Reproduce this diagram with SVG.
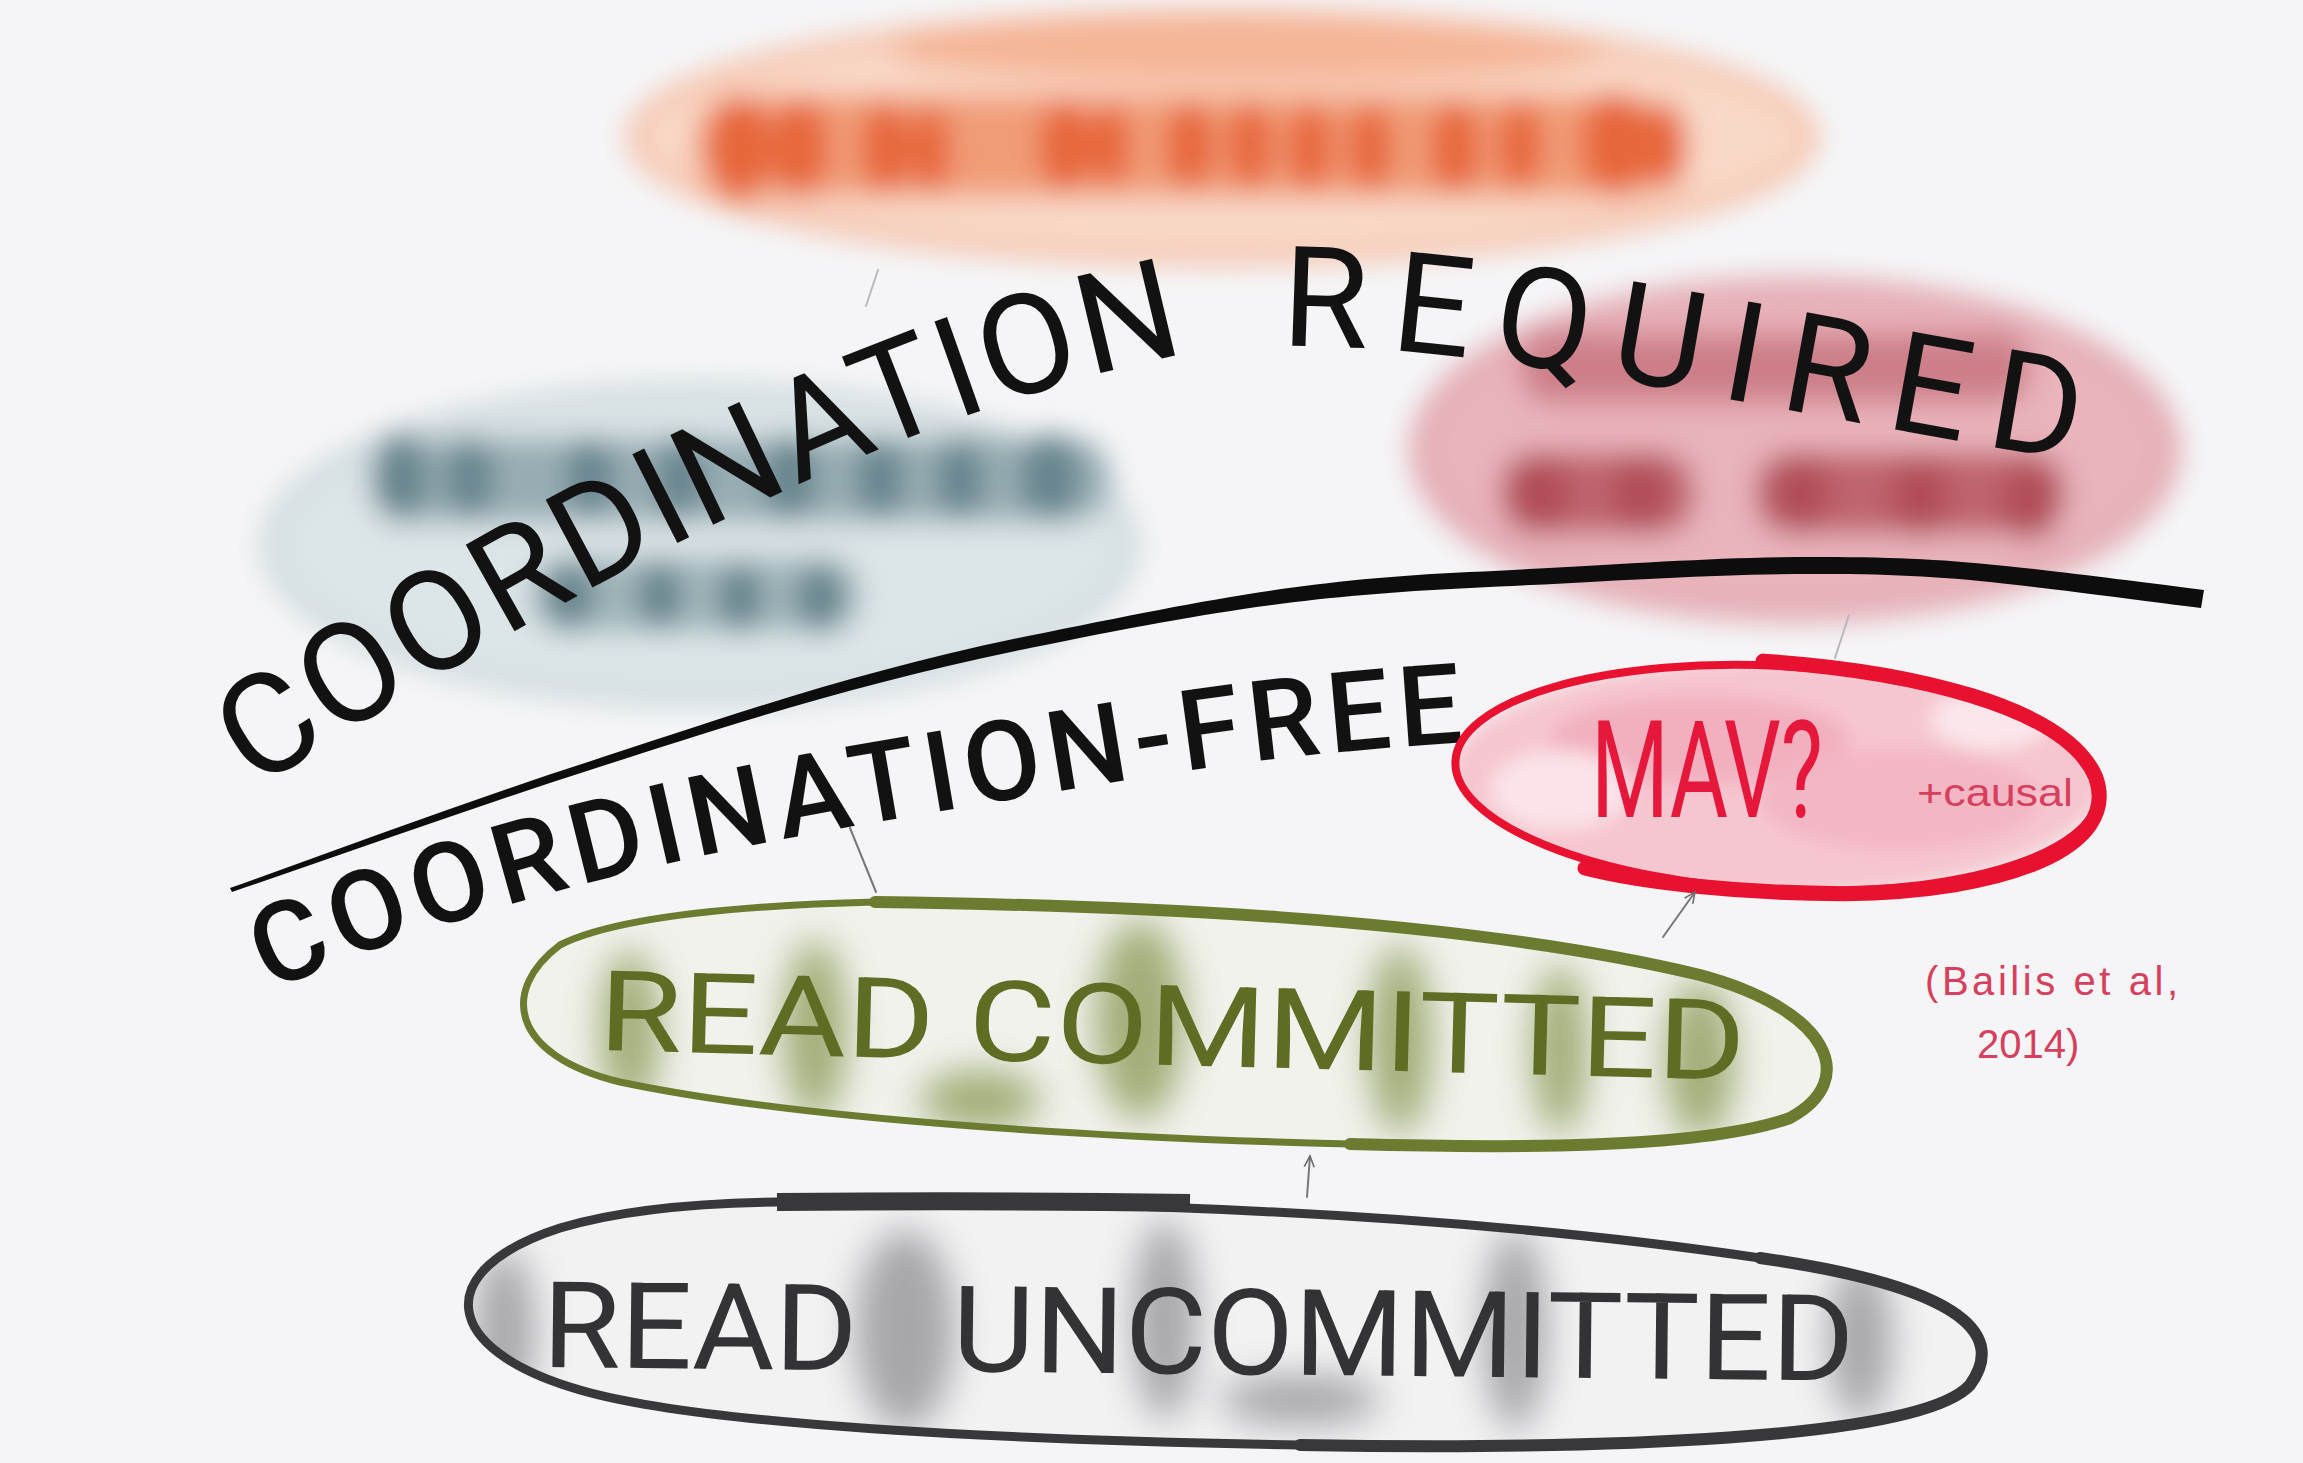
<svg xmlns="http://www.w3.org/2000/svg" xmlns:xlink="http://www.w3.org/1999/xlink" width="2303" height="1463" viewBox="0 0 2303 1463">
<style>
.hand{font-family:Roboto,"Liberation Sans",sans-serif;}
.title{fill:#121212;}
.conn{fill:none;stroke:#77777a;stroke-width:2;stroke-linecap:round;}
.faint{stroke:#b8b8bc;}
.red-note{fill:#D6405C;font-family:"Liberation Sans",sans-serif;}
</style>
<defs>
<filter id="blurL" x="-20%" y="-40%" width="140%" height="180%"><feGaussianBlur stdDeviation="14"/></filter>
<filter id="blurM" x="-20%" y="-40%" width="140%" height="180%"><feGaussianBlur stdDeviation="9"/></filter>
<filter id="blurS" x="-20%" y="-40%" width="140%" height="180%"><feGaussianBlur stdDeviation="18"/></filter>
<marker id="arrow" viewBox="0 0 14 14" refX="13" refY="7" markerWidth="14" markerHeight="14" orient="auto" markerUnits="userSpaceOnUse"><path d="M2,2 L13,7 L2,12" fill="none" stroke="#6b6b6e" stroke-width="1.6"/></marker>
<path id="reqPath" d="M 255,790 C 520,620 860,420 1180,355 C 1400,320 1700,400 2100,465"/>
<path id="freePath" d="M 270,992 C 440,915 650,860 900,818 S 1250,755 1500,740"/>
<path id="rcShape" d="M 875,902 C 1100,905 1450,915 1700,975 C 1830,1010 1860,1080 1790,1118 C 1700,1150 1500,1148 1350,1144 C 1100,1138 800,1120 620,1082 C 510,1055 500,990 560,945 C 620,915 760,905 875,902 Z"/>
<path id="ruShape" d="M 777,1202 C 1100,1200 1450,1212 1760,1258 C 1950,1285 2010,1330 1970,1385 C 1920,1440 1600,1450 1300,1445 C 1000,1440 700,1425 580,1390 C 440,1350 430,1270 560,1228 C 620,1210 700,1203 777,1202 Z"/>
<clipPath id="rcClip"><use xlink:href="#rcShape"/></clipPath>
<clipPath id="ruClip"><use xlink:href="#ruShape"/></clipPath>
<clipPath id="mavClip"><ellipse cx="1777" cy="778" rx="320" ry="110" transform="rotate(3 1777 778)"/></clipPath>
</defs>

<rect x="0" y="0" width="2303" height="1463" fill="#F5F5F7"/>

<!-- blurred (coordination-required) nodes -->
<g id="node-serializable" filter="url(#blurL)">
  <ellipse cx="1222" cy="137" rx="588" ry="120" fill="#F9D9C8" stroke="#F4B192" stroke-width="12"/>
  <ellipse cx="1250" cy="52" rx="360" ry="30" fill="#F5B597"/>
  <rect x="695" y="95" width="980" height="102" rx="45" fill="#F19C77"/>
  <g fill="#E7663A">
    <ellipse cx="740" cy="148" rx="32" ry="52"/><ellipse cx="800" cy="148" rx="28" ry="50"/>
    <ellipse cx="885" cy="148" rx="24" ry="46"/><ellipse cx="930" cy="150" rx="20" ry="44"/>
    <ellipse cx="1065" cy="146" rx="26" ry="46"/><ellipse cx="1110" cy="146" rx="20" ry="42"/>
    <ellipse cx="1190" cy="146" rx="24" ry="44"/><ellipse cx="1250" cy="146" rx="22" ry="44"/>
    <ellipse cx="1310" cy="148" rx="22" ry="44"/><ellipse cx="1370" cy="148" rx="22" ry="44"/>
    <ellipse cx="1455" cy="148" rx="24" ry="46"/><ellipse cx="1520" cy="146" rx="22" ry="44"/>
    <ellipse cx="1615" cy="144" rx="34" ry="52"/><ellipse cx="1665" cy="146" rx="22" ry="44"/>
  </g>
</g>

<g id="node-repeatable-read" filter="url(#blurL)">
  <ellipse cx="700" cy="545" rx="432" ry="155" fill="#DCE5E8" stroke="#C0CED2" stroke-width="10"/>
  <rect x="370" y="438" width="740" height="84" rx="38" fill="#97ADB3"/>
  <rect x="530" y="558" width="330" height="74" rx="34" fill="#A0B5BA"/>
  <g fill="#67858E">
    <ellipse cx="400" cy="478" rx="28" ry="44"/><ellipse cx="470" cy="478" rx="24" ry="42"/>
    <ellipse cx="590" cy="478" rx="24" ry="42"/><ellipse cx="680" cy="478" rx="24" ry="42"/>
    <ellipse cx="790" cy="478" rx="26" ry="44"/><ellipse cx="880" cy="478" rx="24" ry="42"/>
    <ellipse cx="960" cy="478" rx="24" ry="42"/><ellipse cx="1050" cy="478" rx="30" ry="44"/>
    <ellipse cx="570" cy="595" rx="24" ry="36"/><ellipse cx="660" cy="595" rx="22" ry="36"/>
    <ellipse cx="740" cy="598" rx="22" ry="36"/><ellipse cx="820" cy="598" rx="24" ry="36"/>
  </g>
</g>

<g id="node-snapshot-isolation" filter="url(#blurL)">
  <ellipse cx="1795" cy="450" rx="378" ry="165" fill="#E9B4BB" stroke="#DD9BA4" stroke-width="12"/>
  <rect x="1520" y="332" width="510" height="72" rx="32" fill="#CD7F89"/>
  <rect x="1500" y="452" width="195" height="82" rx="36" fill="#C06570"/>
  <rect x="1755" y="452" width="310" height="82" rx="36" fill="#C06570"/>
  <g fill="#B14D59">
    <ellipse cx="1540" cy="494" rx="30" ry="40"/><ellipse cx="1640" cy="494" rx="28" ry="40"/>
    <ellipse cx="1800" cy="494" rx="30" ry="40"/><ellipse cx="1920" cy="497" rx="30" ry="40"/>
    <ellipse cx="2030" cy="502" rx="30" ry="38"/>
  </g>
</g>

<!-- region labels and divider -->
<g id="divider">
  <path d="M 230,888 C 350,845 470,800 588,762 C 706,724 850,672 1028,636 C 1206,600 1300,580 1469,572 C 1638,564 1720,556 1836,557 C 1952,558 1990,563 2204,590 L 2201,608 C 1990,581 1950,575 1836,574 C 1722,573 1638,580 1470,588 C 1302,596 1208,612 1030,648 C 852,684 708,732 590,770 C 472,808 352,851 232,892 Z" fill="#0d0d0d"/>
</g>
<g id="label-coordination-required">
  <text class="hand title" font-size="140"><textPath xlink:href="#reqPath" letter-spacing="3">COORDINATION<tspan dx="35" letter-spacing="22"> REQUIRED</tspan></textPath></text>
</g>
<g id="label-coordination-free">
  <text class="hand title" font-size="112" font-weight="500"><textPath xlink:href="#freePath" textLength="1225" lengthAdjust="spacing">COORDINATION-FREE</textPath></text>
</g>

<!-- MAV node -->
<g id="node-mav">
  <g clip-path="url(#mavClip)">
    <g filter="url(#blurM)">
      <ellipse cx="1777" cy="778" rx="330" ry="120" fill="#F6C6D0"/>
      <ellipse cx="1700" cy="740" rx="150" ry="45" fill="#F2B0BF"/>
      <ellipse cx="1900" cy="800" rx="140" ry="50" fill="#F3B6C4"/>
      <ellipse cx="1560" cy="790" rx="70" ry="40" fill="#FBE3E8"/>
      <ellipse cx="1990" cy="720" rx="60" ry="30" fill="#FBE6EA"/>
    </g>
  </g>
  <ellipse cx="1777" cy="778" rx="322" ry="112" transform="rotate(3 1777 778)" fill="none" stroke="#E8112F" stroke-width="8"/>
  <path d="M 1757,662 C 1900,664 2060,690 2095,760 C 2125,830 2010,880 1850,890 C 1750,895 1650,890 1590,878" transform="rotate(3 1777 778)" fill="none" stroke="#E8112F" stroke-width="15" stroke-linecap="round"/>
  <text class="hand" x="1591" y="817" font-size="135" textLength="232" lengthAdjust="spacingAndGlyphs" fill="#E5173A">MAV?</text>
  <text class="red-note" x="1917" y="806" font-size="38" textLength="156" lengthAdjust="spacingAndGlyphs">+causal</text>
</g>

<g id="note-citation">
  <text class="red-note" font-size="40"><tspan x="1925" y="995" textLength="253">(Bailis et al,</tspan><tspan x="1977" y="1058">2014)</tspan></text>
</g>

<!-- READ COMMITTED node -->
<g id="node-read-committed">
  <use xlink:href="#rcShape" fill="#F1F2EC"/>
  <g clip-path="url(#rcClip)">
    <g filter="url(#blurS)" fill="#8E9C5C" opacity="0.8">
      <ellipse cx="630" cy="1030" rx="30" ry="80"/>
      <ellipse cx="815" cy="1030" rx="32" ry="90"/>
      <ellipse cx="1140" cy="1020" rx="45" ry="100"/>
      <ellipse cx="1400" cy="1040" rx="32" ry="95"/>
      <ellipse cx="1560" cy="1050" rx="28" ry="85"/>
      <ellipse cx="1700" cy="1060" rx="35" ry="80"/>
      <ellipse cx="980" cy="1100" rx="60" ry="30"/>
    </g>
  </g>
  <use xlink:href="#rcShape" fill="none" stroke="#6B7B2F" stroke-width="7"/>
  <path d="M 875,902 C 1100,905 1450,915 1700,975 C 1830,1010 1860,1080 1790,1118 C 1700,1150 1500,1148 1350,1144" fill="none" stroke="#6B7B2F" stroke-width="12" stroke-linecap="round"/>
  <text class="hand" x="598" y="1050" font-size="112" textLength="1147" lengthAdjust="spacingAndGlyphs" fill="#5E6C24" transform="rotate(1.5 598 1050)">READ COMMITTED</text>
</g>

<!-- READ UNCOMMITTED node -->
<g id="node-read-uncommitted">
  <use xlink:href="#ruShape" fill="#F2F2F3"/>
  <g clip-path="url(#ruClip)">
    <g filter="url(#blurS)" fill="#8E8E92" opacity="0.75">
      <ellipse cx="505" cy="1330" rx="30" ry="80"/>
      <ellipse cx="905" cy="1330" rx="50" ry="100"/>
      <ellipse cx="1165" cy="1320" rx="32" ry="100"/>
      <ellipse cx="1515" cy="1330" rx="32" ry="100"/>
      <ellipse cx="1860" cy="1340" rx="32" ry="80"/>
      <ellipse cx="1300" cy="1400" rx="80" ry="25"/>
    </g>
  </g>
  <use xlink:href="#ruShape" fill="none" stroke="#38383B" stroke-width="9"/>
  <path d="M 777,1202 C 900,1201 1050,1201 1190,1203" fill="none" stroke="#38383B" stroke-width="18"/>
  <path d="M 1760,1258 C 1950,1285 2010,1330 1970,1385 C 1920,1440 1600,1450 1300,1445" fill="none" stroke="#38383B" stroke-width="12" stroke-linecap="round"/>
  <text class="hand" x="542" y="1367" font-size="120" word-spacing="60" textLength="1312" lengthAdjust="spacingAndGlyphs" fill="#333335" transform="rotate(0.6 542 1367)">READ UNCOMMITTED</text>
</g>

<!-- connectors -->
<g id="connectors">
  <path class="conn faint" d="M 866,306 L 878,270"/>
  <path class="conn faint" d="M 1835,658 L 1849,615"/>
  <path class="conn" d="M 876,892 L 850,828"/>
  <path class="conn" d="M 1663,937 L 1695,892" marker-end="url(#arrow)"/>
  <path class="conn" d="M 1307,1197 L 1310,1156" marker-end="url(#arrow)"/>
</g>
</svg>
